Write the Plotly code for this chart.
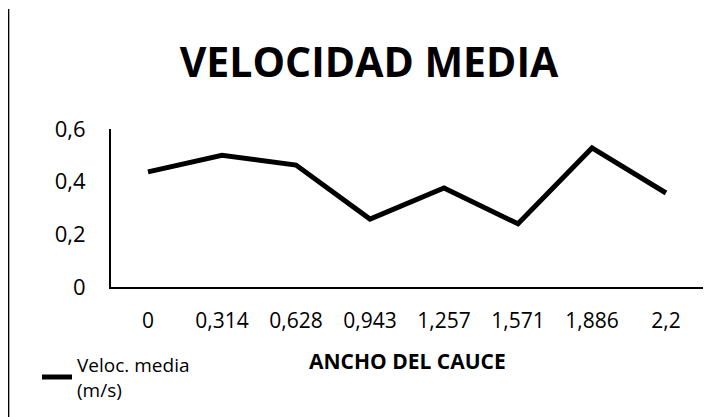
import plotly.graph_objects as go

categories = ["0", "0,314", "0,628", "0,943", "1,257", "1,571", "1,886", "2,2"]
velocidad = [0.437, 0.50, 0.463, 0.258, 0.376, 0.24, 0.528, 0.357]
y_ticks = [0, 0.2, 0.4, 0.6]
y_tick_labels = ["0", "0,2", "0,4", "0,6"]
x_title = "ANCHO DEL CAUCE"

FONT = "Open Sans"

fig = go.Figure()
fig.add_trace(go.Scatter(
    x=categories, y=velocidad, mode="lines",
    name="Veloc. media<br>(m/s)",
    line=dict(color="black", width=5),
))

fig.update_layout(
    width=722, height=417,
    paper_bgcolor="white", plot_bgcolor="white",
    margin=dict(l=103, r=27, t=121, b=138, autoexpand=False),
    font=dict(family=FONT, color="black", size=21),
    title=dict(text="<b>VELOCIDAD MEDIA</b>", x=0.5, xanchor="center",
               y=0.87, yanchor="middle", font=dict(size=41, family=FONT, color="black")),
    showlegend=True,
    legend=dict(x=-0.125, xref="paper", y=0.19, yref="container", xanchor="left", yanchor="top",
                font=dict(size=19, family=FONT), bgcolor="rgba(0,0,0,0)",
                itemwidth=30),
    xaxis=dict(type="category", showgrid=False, showline=True, linecolor="black", linewidth=2,
               ticks="", ticklabelstandoff=14, tickfont=dict(size=21), automargin=False,
               range=[-0.5, 7.5]),
    yaxis=dict(range=[0, 0.6], showgrid=False, showline=True, linecolor="black", linewidth=2,
               tickvals=y_ticks, ticktext=y_tick_labels, ticks="", ticklabelstandoff=19,
               tickfont=dict(size=22), zeroline=False, automargin=False),
    annotations=[dict(text="<b>" + x_title + "</b>", xref="paper", yref="paper",
                      x=0.5, y=-0.468, xanchor="center", yanchor="middle",
                      showarrow=False, font=dict(size=21, family=FONT, color="black"))],
    shapes=[dict(type="line", xref="paper", yref="paper", x0=-0.173, x1=-0.173, y0=-0.9, y1=1.76,
                 line=dict(color="black", width=1.5))],
)

fig.write_html("out.html")
